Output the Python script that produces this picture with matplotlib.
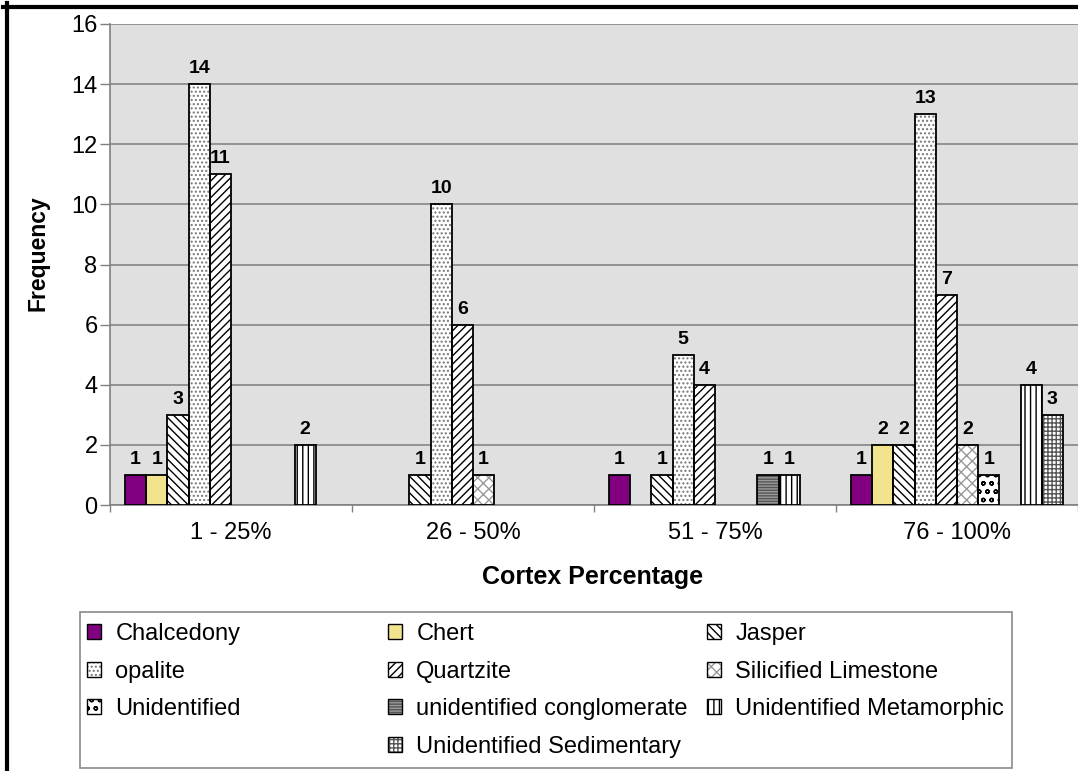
import matplotlib
matplotlib.use('Agg')
import matplotlib.pyplot as plt
from matplotlib.patches import Rectangle, Patch
from matplotlib.lines import Line2D
import numpy as np

plt.rcParams['font.family'] = ['Liberation Sans', 'DejaVu Sans']
plt.rcParams['hatch.linewidth'] = 1.0

categories = ['1 - 25%', '26 - 50%', '51 - 75%', '76 - 100%']
series_names = ['Chalcedony', 'Chert', 'Jasper', 'opalite', 'Quartzite',
                'Silicified Limestone', 'Unidentified', 'unidentified conglomerate',
                'Unidentified Metamorphic', 'Unidentified Sedimentary']
chalcedony = [1, 0, 1, 1]
chert = [1, 0, 0, 2]
jasper = [3, 1, 1, 2]
opalite = [14, 10, 5, 13]
quartzite = [11, 6, 4, 7]
silicified_limestone = [0, 1, 0, 2]
unidentified = [0, 0, 0, 1]
unidentified_conglomerate = [0, 0, 1, 0]
unidentified_metamorphic = [2, 0, 1, 4]
unidentified_sedimentary = [0, 0, 0, 3]
yticks = [0, 2, 4, 6, 8, 10, 12, 14, 16]

series_values = [chalcedony, chert, jasper, opalite, quartzite, silicified_limestone,
                 unidentified, unidentified_conglomerate, unidentified_metamorphic,
                 unidentified_sedimentary]

# (facecolor, hatch, hatchcolor)
styles = [
    ('#800080', None, '#800080'),
    ('#F2E48E', None, '#F2E48E'),
    ('white', '\\\\\\\\', 'black'),
    ('white', '....', '#777777'),
    ('white', '////', 'black'),
    ('white', 'xxx', '#999999'),
    ('white', 'oo', 'black'),
    ('#9a9a9a', '------', '#555555'),
    ('white', '|||', 'black'),
    ('white', '++++', '#555555'),
]

W, H = 1078, 771
fig = plt.figure(figsize=(W / 100, H / 100), dpi=100)
ax = fig.add_axes([110 / W, 1 - 505 / H, (1078 - 110) / W, (505 - 24) / H])
ax.set_facecolor('#E0E0E0')

n = len(series_names)
bw = 1.0 / (n + 1.42)
xc = np.arange(len(categories))
for i, (name, vals, (fc, hatch, hc)) in enumerate(zip(series_names, series_values, styles)):
    xs = xc + (i - (n - 1) / 2) * bw
    sel = [k for k, v in enumerate(vals) if v > 0]
    xsel = xs[sel]
    vsel = [vals[k] for k in sel]
    ax.bar(xsel, vsel, bw, color=fc, edgecolor=hc, hatch=hatch, linewidth=0, zorder=3)
    ax.bar(xsel, vsel, bw, fill=False, edgecolor='black', linewidth=1.3, zorder=4)
    for x, v in zip(xsel, vsel):
        ax.annotate(str(v), (x, v), xytext=(0, 5), textcoords='offset points',
                    ha='center', va='bottom', fontsize=14, fontweight='bold', zorder=5)

ax.set_xlim(-0.5, len(categories) - 0.5)
ax.set_ylim(0, 16)
ax.set_yticks(yticks)
ax.yaxis.grid(True, color='#858585', linewidth=1.2, zorder=1)
ax.set_axisbelow(True)
ax.tick_params(axis='y', labelsize=17, length=7, width=1, color='#808080', pad=2)
ax.set_xticks(np.arange(len(categories) + 1) - 0.5)
ax.set_xticklabels([])
ax.tick_params(axis='x', which='major', length=5, width=1, color='#808080')
ax.set_xticks(xc, minor=True)
ax.set_xticklabels(categories, minor=True)
ax.tick_params(axis='x', which='minor', length=0, labelsize=17, pad=12)
for s in ['top', 'right']:
    ax.spines[s].set_visible(False)
ax.spines['left'].set_color('#808080')
ax.spines['bottom'].set_color('#808080')
ax.spines['left'].set_linewidth(1.2)
ax.spines['bottom'].set_linewidth(1.2)

fig.text(38 / W, 1 - 253 / H, 'Frequency', rotation=90, ha='center', va='center',
         fontsize=16.5, fontweight='bold')
fig.text(593 / W, 1 - 577 / H, 'Cortex Percentage', ha='center', va='center',
         fontsize=18, fontweight='bold')

# legend frame
fig.add_artist(Rectangle((80 / W, 1 - 768 / H), (1012 - 80) / W, (768 - 612) / H,
                         transform=fig.transFigure, facecolor='white',
                         edgecolor='#8a8a8a', linewidth=1.2, zorder=0))

def handle(i):
    fc, hatch, hc = styles[i]
    return (Patch(facecolor=fc, edgecolor=hc, hatch=hatch, linewidth=0),
            Patch(fill=False, edgecolor='black', linewidth=1.0))

columns = [[0, 3, 6], [1, 4, 7, 9], [2, 5, 8]]
col_x = [87, 388, 707]
for cx, idxs in zip(col_x, columns):
    leg = fig.legend([handle(i) for i in idxs], [series_names[i] for i in idxs],
                     loc='upper left', bbox_to_anchor=(cx / W, 1 - 623 / H),
                     frameon=False, fontsize=17, borderpad=0, borderaxespad=0,
                     handlelength=0.6, handleheight=0.6, handletextpad=0.6,
                     labelspacing=0.66)

# black border top and left
fig.add_artist(Line2D([3 / W, 1], [1 - 7 / H, 1 - 7 / H], transform=fig.transFigure,
                      color='black', linewidth=3))
fig.add_artist(Line2D([7 / W, 7 / W], [0, 1 - 3 / H], transform=fig.transFigure,
                      color='black', linewidth=3))

fig.savefig('out.png', dpi=100)
